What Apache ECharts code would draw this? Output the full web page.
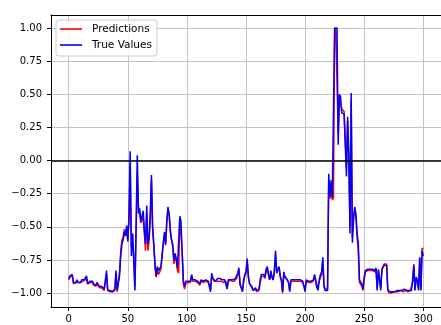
<!DOCTYPE html>
<html>
<head>
<meta charset="utf-8">
<script src="https://cdn.jsdelivr.net/npm/echarts@6/dist/echarts.min.js"></script>
<style>
  html, body { margin: 0; padding: 0; background: #fff; }
  #chart { width: 441px; height: 325px; }
</style>
</head>
<body>
<div id="chart"></div>
<script>
// ── data (index 0..300) ──

const trueValues = [
  -0.89, -0.87, -0.86, -0.86, -0.92, -0.91, -0.92, -0.90, -0.92, -0.91,
  -0.92, -0.90, -0.91, -0.90, -0.89, -0.87, -0.93, -0.92, -0.91, -0.92,
  -0.91, -0.93, -0.92, -0.94, -0.92, -0.93, -0.95, -0.94, -0.95, -0.96,
  -0.97, -0.97, -0.83, -0.98, -0.99, -0.98, -0.99, -0.99, -0.98, -0.97,
  -0.83, -0.98, -0.98, -0.87, -0.72, -0.63, -0.60, -0.54, -0.57, -0.49,
  -0.61, -0.41, 0.07, -0.72, -0.55, -0.75, -0.98, -0.50, 0.04, -0.40,
  -0.36, -0.46, -0.45, -0.38, -0.53, -0.63, -0.34, -0.63, -0.58, -0.40,
  -0.11, -0.50, -0.63, -0.78, -0.87, -0.80, -0.83, -0.82, -0.80, -0.71,
  -0.62, -0.54, -0.63, -0.45, -0.35, -0.41, -0.54, -0.60, -0.63, -0.75,
  -0.70, -0.74, -0.81, -0.82, -0.42, -0.46, -0.70, -0.91, -0.95, -0.91,
  -0.91, -0.91, -0.90, -0.91, -0.86, -0.90, -0.91, -0.90, -0.90, -0.91,
  -0.90, -0.93, -0.90, -0.90, -0.91, -0.91, -0.90, -0.91, -0.91, -0.91,
  -0.99, -0.85, -0.89, -0.90, -0.91, -0.90, -0.89, -0.90, -0.89, -0.90,
  -0.90, -0.91, -0.90, -0.90, -0.97, -0.90, -0.89, -0.90, -0.90, -0.90,
  -0.90, -0.89, -0.88, -0.85, -0.81, -0.94, -0.96, -0.99, -0.90, -0.86,
  -0.84, -0.74, -0.88, -0.93, -0.92, -0.95, -0.98, -0.97, -0.96, -0.98,
  -0.98, -0.97, -0.90, -0.86, -0.87, -0.86, -0.88, -0.82, -0.80, -0.86,
  -0.90, -0.83, -0.88, -0.90, -0.83, -0.68, -0.85, -0.82, -0.80, -0.88,
  -0.90, -0.99, -0.84, -0.88, -0.89, -0.90, -0.92, -0.99, -0.90, -0.90,
  -0.90, -0.90, -0.90, -0.90, -0.90, -0.90, -0.90, -0.91, -0.91, -0.90,
  -0.99, -0.90, -0.91, -0.91, -0.90, -0.91, -0.91, -0.90, -0.86, -0.90,
  -0.96, -0.98, -0.90, -0.86, -0.84, -0.73, -0.95, -0.98, -0.97, -0.98,
  -0.10, -0.27, -0.15, -0.28, -0.28, 1.00, 1.00, 1.00, 0.12, 0.50,
  0.48, 0.36, 0.35, 0.35, 0.34, -0.12, 0.33, 0.05, -0.55, 0.51,
  -0.62, -0.45, -0.35, -0.40, -0.55, -0.62, -0.90, -0.90, -0.93, -0.97,
  -0.88, -0.83, -0.82, -0.82, -0.82, -0.82, -0.83, -0.82, -0.82, -0.83,
  -0.81, -0.98, -0.82, -0.83, -0.98, -0.82, -0.81, -0.79, -0.78, -0.79,
  -0.98, -0.99, -0.99, -0.99, -0.99, -0.98, -0.99, -0.98, -0.98, -0.98,
  -0.98, -0.97, -0.98, -0.98, -0.97, -0.97, -0.98, -0.98, -0.98, -0.97,
  -0.98, -0.90, -0.79, -0.98, -0.88, -0.90, -0.98, -0.73, -0.98, -0.68,
  -0.72
]

const predictions = [
  -0.90, -0.88, -0.87, -0.87, -0.93, -0.92, -0.92, -0.91, -0.92, -0.92,
  -0.92, -0.91, -0.91, -0.91, -0.90, -0.88, -0.93, -0.93, -0.92, -0.93,
  -0.92, -0.94, -0.93, -0.95, -0.93, -0.94, -0.96, -0.95, -0.96, -0.97,
  -0.98, -0.98, -0.86, -0.98, -0.99, -0.99, -0.99, -0.99, -0.99, -0.98,
  -0.86, -0.99, -0.99, -0.84, -0.68, -0.60, -0.58, -0.52, -0.55, -0.50,
  -0.60, -0.45, -0.05, -0.65, -0.55, -0.72, -0.95, -0.55, -0.10, -0.35,
  -0.40, -0.47, -0.45, -0.42, -0.55, -0.68, -0.40, -0.68, -0.60, -0.45,
  -0.15, -0.52, -0.65, -0.80, -0.88, -0.82, -0.86, -0.84, -0.82, -0.73,
  -0.63, -0.56, -0.64, -0.47, -0.37, -0.40, -0.52, -0.60, -0.65, -0.78,
  -0.72, -0.76, -0.83, -0.85, -0.43, -0.42, -0.68, -0.93, -0.97, -0.93,
  -0.92, -0.92, -0.91, -0.92, -0.88, -0.91, -0.92, -0.91, -0.91, -0.92,
  -0.91, -0.94, -0.91, -0.91, -0.92, -0.92, -0.91, -0.92, -0.92, -0.92,
  -0.97, -0.87, -0.89, -0.91, -0.92, -0.91, -0.90, -0.91, -0.90, -0.91,
  -0.91, -0.92, -0.91, -0.91, -0.96, -0.92, -0.90, -0.91, -0.91, -0.91,
  -0.91, -0.90, -0.89, -0.86, -0.83, -0.93, -0.96, -0.98, -0.92, -0.87,
  -0.85, -0.76, -0.87, -0.93, -0.93, -0.96, -0.98, -0.98, -0.97, -0.99,
  -0.99, -0.98, -0.92, -0.88, -0.88, -0.87, -0.89, -0.84, -0.81, -0.86,
  -0.90, -0.85, -0.88, -0.90, -0.84, -0.71, -0.84, -0.83, -0.81, -0.87,
  -0.91, -1.00, -0.86, -0.87, -0.89, -0.90, -0.92, -0.98, -0.91, -0.90,
  -0.91, -0.91, -0.91, -0.91, -0.91, -0.91, -0.91, -0.92, -0.92, -0.91,
  -0.97, -0.91, -0.92, -0.92, -0.91, -0.92, -0.92, -0.91, -0.88, -0.91,
  -0.96, -0.97, -0.91, -0.88, -0.86, -0.76, -0.94, -0.97, -0.97, -0.97,
  -0.15, -0.29, -0.20, -0.30, -0.28, 0.95, 1.00, 1.00, 0.20, 0.47,
  0.46, 0.39, 0.38, 0.37, 0.36, -0.05, 0.30, 0.00, -0.50, 0.45,
  -0.58, -0.42, -0.37, -0.42, -0.58, -0.68, -0.92, -0.92, -0.95, -0.98,
  -0.90, -0.84, -0.83, -0.83, -0.83, -0.83, -0.84, -0.83, -0.83, -0.84,
  -0.82, -0.96, -0.83, -0.84, -0.96, -0.83, -0.80, -0.78, -0.77, -0.78,
  -0.97, -1.00, -1.00, -1.00, -1.00, -0.99, -1.00, -0.99, -0.99, -0.99,
  -0.99, -0.98, -0.99, -0.99, -0.98, -0.98, -0.99, -0.99, -0.99, -0.98,
  -0.99, -0.92, -0.78, -0.97, -0.89, -0.91, -0.97, -0.74, -0.97, -0.66,
  -0.67
]

const xTicks = [0, 50, 100, 150, 200, 250, 300]
const yTicks = [-1, -0.75, -0.5, -0.25, 0, 0.25, 0.5, 0.75, 1]
const seriesNames = ['Predictions', 'True Values']

// ── chart ──

const chart = echarts.init(document.getElementById('chart'), null, { renderer: 'canvas' })
const font = 'DejaVu Sans'
const fmtY = v => (v < 0 ? '\u2212' : '') + Math.abs(v).toFixed(2)
const toPairs = arr => arr.map((v, i) => [i, v])

const spine = { show: true, onZero: false, lineStyle: { color: '#000', width: 1 } }
const tick = { show: true, length: 4, lineStyle: { color: '#000', width: 1 } }
const gridLine = { show: true, lineStyle: { color: '#c4c4c4', width: 1 } }

chart.setOption({
  animation: false,
  backgroundColor: '#fff',
  grid: { left: 51, top: 15, right: -1, bottom: 18, containLabel: false },
  legend: {
    data: seriesNames,
    orient: 'vertical',
    left: 56, top: 20,
    icon: 'rect',
    itemWidth: 22, itemHeight: 1.6, itemGap: 4,
    padding: [3, 5, 5, 4],
    borderColor: '#cccccc', borderWidth: 1, borderRadius: 3,
    backgroundColor: 'rgba(255,255,255,0.8)',
    textStyle: { fontFamily: font, fontSize: 10.5, color: '#000', padding: [0, 0, 0, 5], lineHeight: 12 },
  },
  xAxis: [
    {
      type: 'value', min: -15, max: 315,
      axisLine: spine,
      axisTick: { ...tick, customValues: xTicks },
      splitLine: gridLine,
      axisLabel: { customValues: xTicks, margin: 7, fontFamily: font, fontSize: 10, color: '#000' },
    },
    {
      // top spine only
      type: 'value', position: 'top', min: -15, max: 315,
      axisLine: spine, axisTick: { show: false }, axisLabel: { show: false }, splitLine: { show: false },
    },
  ],
  yAxis: {
    type: 'value', min: -1.105, max: 1.098,
    axisLine: spine,
    axisTick: { ...tick, customValues: yTicks },
    splitLine: gridLine,
    axisLabel: { customValues: yTicks, margin: 9, fontFamily: font, fontSize: 10, color: '#000', formatter: fmtY },
  },
  series: [
    {
      name: seriesNames[0], type: 'line', data: toPairs(predictions),
      symbol: 'none', lineStyle: { color: '#ff0000', width: 1.5 }, itemStyle: { color: '#ff0000' },
    },
    {
      name: seriesNames[1], type: 'line', data: toPairs(trueValues),
      symbol: 'none', lineStyle: { color: '#0000ff', width: 1.5 }, itemStyle: { color: '#0000ff' },
      markLine: {
        silent: true, symbol: ['none', 'none'], label: { show: false },
        lineStyle: { color: '#000', width: 1.5, type: 'solid' },
        data: [{ yAxis: 0 }],
      },
    },
  ],
})
</script>
</body>
</html>
